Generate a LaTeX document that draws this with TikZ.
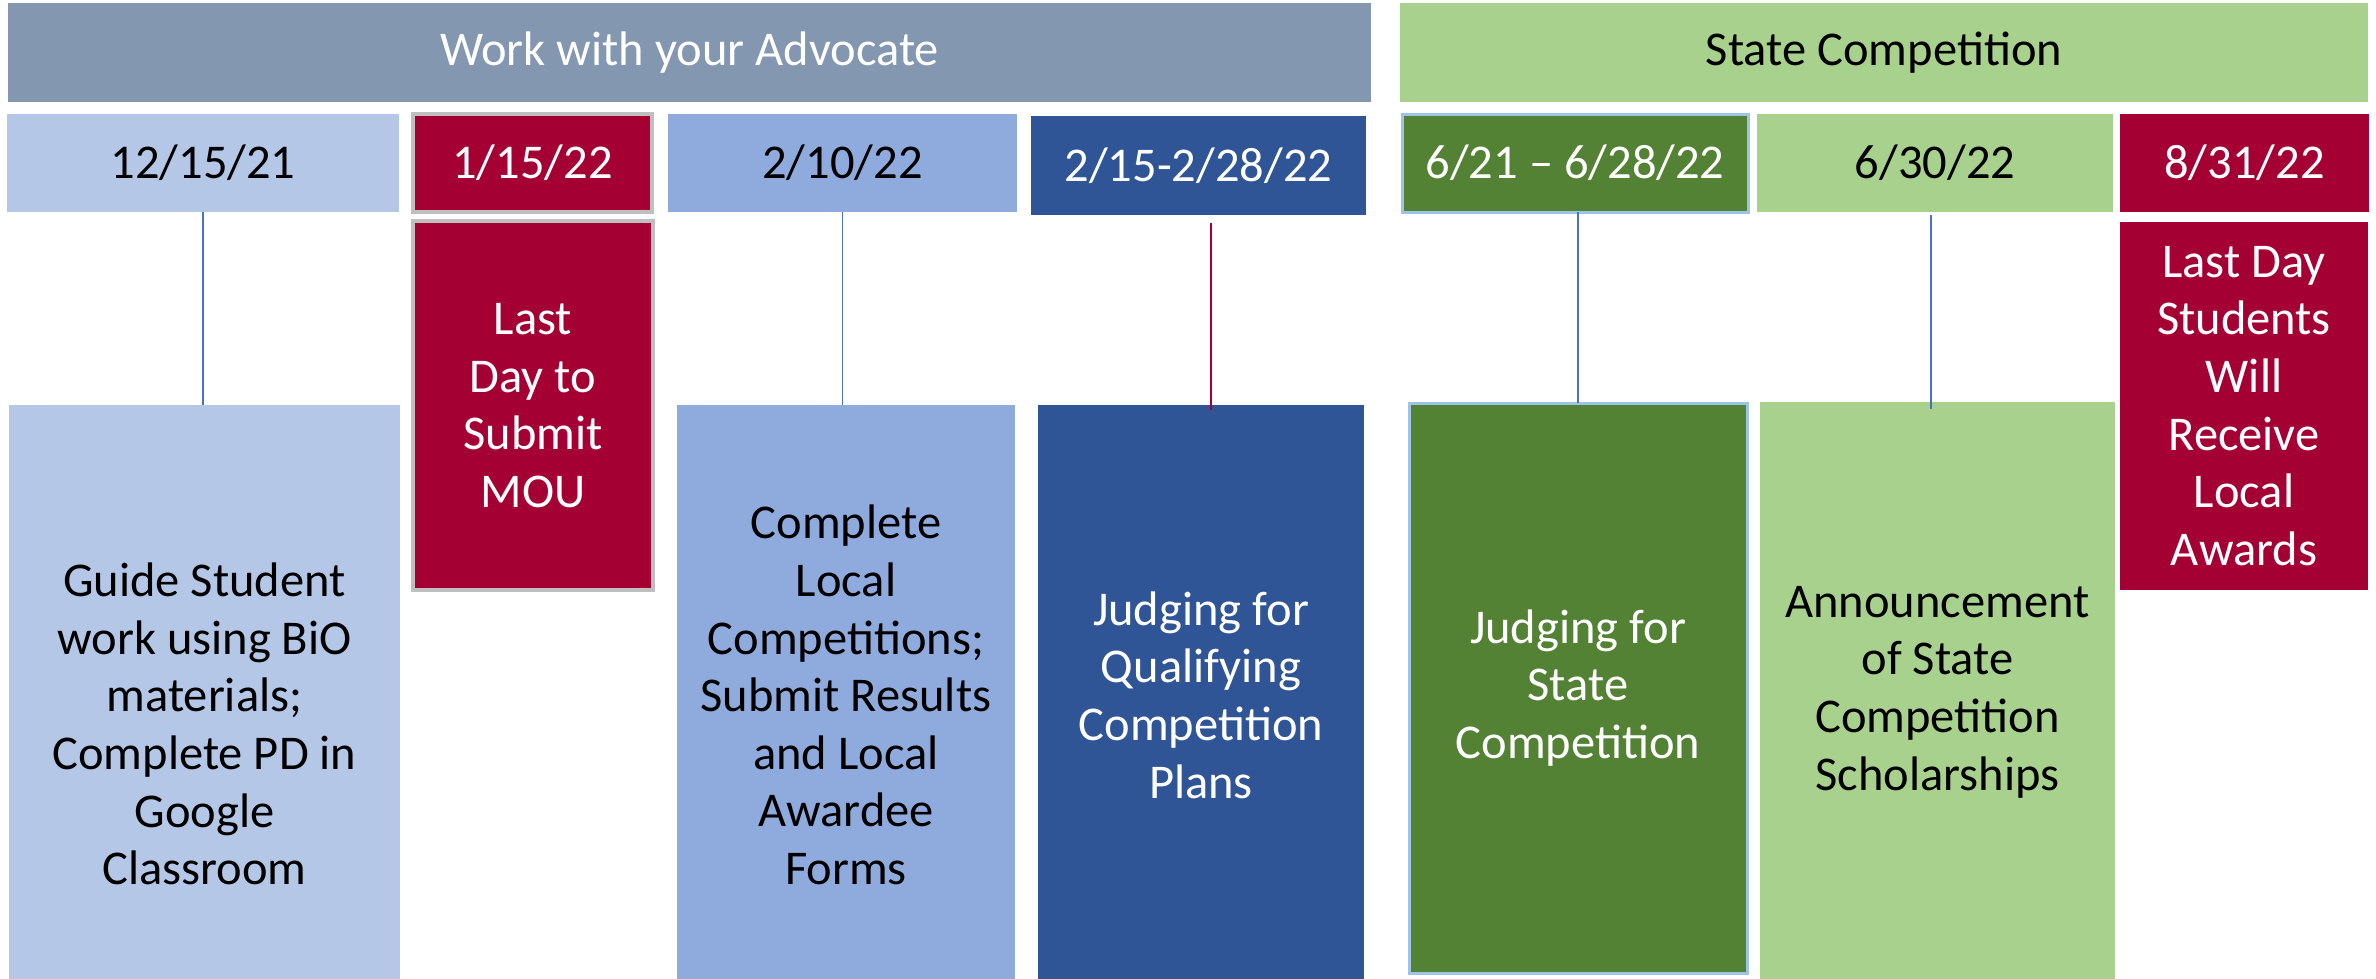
\documentclass[tikz,border=0pt]{standalone}
\usepackage{fontspec}
\setmainfont{Carlito}
\definecolor{advgray}{HTML}{8497B0}
\definecolor{lgreen}{HTML}{A9D18E}
\definecolor{dgreen}{HTML}{548235}
\definecolor{lblue}{HTML}{B4C7E7}
\definecolor{mblue}{HTML}{8FAADC}
\definecolor{dblue}{HTML}{2F5597}
\definecolor{wine}{HTML}{A50034}
\definecolor{edgegray}{HTML}{BFBFBF}
\definecolor{edgeblue}{HTML}{9DC3E6}
\definecolor{linkblue}{HTML}{4472C4}
\tikzset{
  box/.style={anchor=north west, inner sep=0pt, outer sep=0pt, align=center,
    font=\fontsize{48.5}{57.6}\selectfont},
  graybd/.style={draw=edgegray, line width=3.5pt},
  bluebd/.style={draw=edgeblue, line width=3pt},
  link/.style={draw=linkblue, line width=1.5pt},
  redlink/.style={draw=wine, line width=1.5pt}
}
\begin{document}
\begin{tikzpicture}[x=1pt,y=-1pt]
\path[use as bounding box] (0,0) rectangle (2376,978);
\clip (0,0) rectangle (2376,978);
% header bars
\node[box, fill=advgray, text=white, minimum width=1363pt, minimum height=99pt] (adv) at (8,3) {Work with your Advocate};
\node[box, fill=lgreen, text=black, minimum width=968pt, minimum height=99pt] (state) at (1400,3) {State Competition};
% date boxes
\node[box, fill=lblue, text=black, minimum width=392pt, minimum height=98pt] (d1) at (7,114) {12/15/21};
\node[box, fill=wine, graybd, text=white, minimum width=239pt, minimum height=98pt] (d2) at (413,114) {1/15/22};
\node[box, fill=mblue, text=black, minimum width=349pt, minimum height=98pt] (d3) at (668,114) {2/10/22};
\node[box, fill=dblue, text=white, minimum width=335pt, minimum height=99pt] (d4) at (1031,116) {2/15-2/28/22};
\node[box, fill=dgreen, bluebd, text=white, minimum width=346pt, minimum height=98pt] (d5) at (1402,114) {6/21 – 6/28/22};
\node[box, fill=lgreen, text=black, minimum width=356pt, minimum height=98pt] (d6) at (1757,114) {6/30/22};
\node[box, fill=wine, text=white, minimum width=249pt, minimum height=98pt] (d7) at (2120,114) {8/31/22};
% description boxes
\node[box, fill=lblue, text=black, minimum width=391pt, minimum height=638pt] (b1) at (9,405) {Guide Student\\work using BiO\\materials;\\Complete PD in\\Google\\Classroom};
\node[box, fill=wine, graybd, text=white, minimum width=240pt, minimum height=369pt] (b2) at (413,221) {Last\\Day to\\Submit\\MOU};
\node[box, fill=mblue, text=black, minimum width=338pt, minimum height=580pt] (b3) at (677,405) {Complete\\Local\\Competitions;\\Submit Results\\and Local\\Awardee\\Forms};
\node[box, fill=dblue, text=white, minimum width=326pt, minimum height=580pt] (b4) at (1038,405) {Judging for\\Qualifying\\Competition\\Plans};
\node[box, fill=dgreen, bluebd, text=white, minimum width=338pt, minimum height=570pt] (b5) at (1409,403) {Judging for\\State\\Competition};
\node[box, fill=lgreen, text=black, minimum width=355pt, minimum height=580pt] (b6) at (1760,402) {Announcement\\of State\\Competition\\Scholarships};
\node[box, fill=wine, text=white, minimum width=248pt, minimum height=368pt] (b7) at (2120,222) {Last Day\\Students\\Will\\Receive\\Local\\Awards};
% connectors
\draw[link] (d1.south) -- (d1.south |- b1.north);
\draw[link] (d3.south) -- (d3.south |- b3.north);
\draw[redlink] ([xshift=12.5pt,yshift=-8pt]d4.south) -- ([xshift=10pt,yshift=-5pt]b4.north);
\draw[link] (b5.north |- d5.south) -- (b5.north);
\draw[link] ([xshift=-4pt,yshift=-3pt]d6.south) -- ([xshift=-6.5pt,yshift=-7pt]b6.north);
\end{tikzpicture}
\end{document}
